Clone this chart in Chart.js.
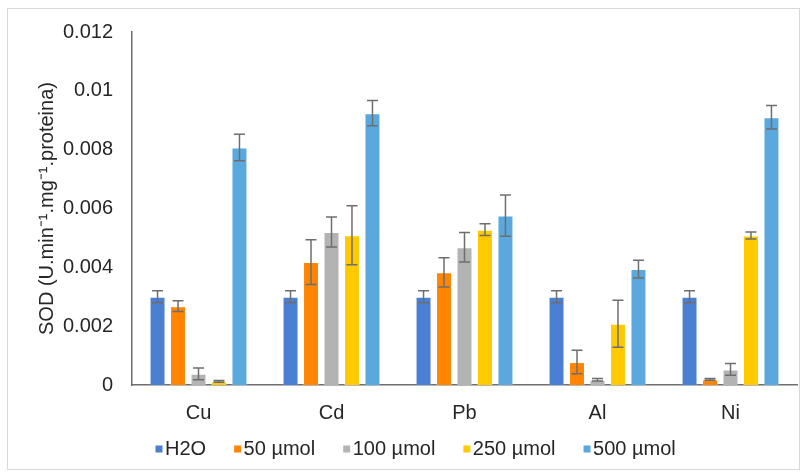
<!DOCTYPE html>
<html>
<head>
<meta charset="utf-8">
<script src="https://cdn.jsdelivr.net/npm/chart.js@4/dist/chart.umd.min.js"></script>
<style>
html,body{margin:0;padding:0;background:#fff;}
#wrap{width:807px;height:473px;position:relative;}
</style>
</head>
<body>
<div id="wrap"><canvas id="c" width="807" height="473"></canvas></div>
<script>
const categories = ['Cu', 'Cd', 'Pb', 'Al', 'Ni'];
const seriesNames = ['H2O', '50 µmol', '100 µmol', '250 µmol', '500 µmol'];
const h2oValues = [0.0030, 0.0030, 0.0030, 0.0030, 0.0030];
const umol50Values = [0.00268, 0.00418, 0.00383, 0.00078, 0.00019];
const umol100Values = [0.00038, 0.00520, 0.00468, 0.00018, 0.00053];
const umol250Values = [0.00012, 0.00509, 0.00528, 0.00208, 0.00508];
const umol500Values = [0.00807, 0.00924, 0.00576, 0.00394, 0.00910];
const h2oErrors = [0.0002, 0.0002, 0.0002, 0.0002, 0.0002];
const umol50Errors = [0.00018, 0.00076, 0.00050, 0.00040, 0.00003];
const umol100Errors = [0.00020, 0.00051, 0.00050, 0.00004, 0.00020];
const umol250Errors = [0.00003, 0.00100, 0.00020, 0.00080, 0.00012];
const umol500Errors = [0.00045, 0.00043, 0.00070, 0.00030, 0.00040];
const yTickLabels = ['0', '0.002', '0.004', '0.006', '0.008', '0.01', '0.012'];
const yTitle = 'SOD (U.min\u207B\u00B9.mg\u207B\u00B9.proteina)';

const colors = ['#4A7FD1', '#FF8503', '#B3B3B3', '#FFCA00', '#5BA8DE'];
const values = [h2oValues, umol50Values, umol100Values, umol250Values, umol500Values];
const errors = [h2oErrors, umol50Errors, umol100Errors, umol250Errors, umol500Errors];
const FONT = '"Liberation Sans", Arial, sans-serif';

const errorBarPlugin = {
  id: 'errorBars',
  afterDatasetsDraw(chart) {
    const ctx = chart.ctx;
    const y = chart.scales.y;
    ctx.save();
    ctx.strokeStyle = '#6E6E6E';
    ctx.lineWidth = 1.5;
    chart.data.datasets.forEach((ds, di) => {
      const meta = chart.getDatasetMeta(di);
      meta.data.forEach((bar, i) => {
        const v = ds.data[i], e = ds.errors[i];
        const yt = y.getPixelForValue(v + e);
        const yb = y.getPixelForValue(Math.max(0, v - e));
        const half = 5.5;
        ctx.beginPath();
        ctx.moveTo(bar.x, yt); ctx.lineTo(bar.x, yb);
        ctx.moveTo(bar.x - half, yt); ctx.lineTo(bar.x + half, yt);
        ctx.moveTo(bar.x - half, yb); ctx.lineTo(bar.x + half, yb);
        ctx.stroke();
      });
    });
    ctx.restore();
  }
};

const legendFramePlugin = {
  id: 'legendFrame',
  afterDraw(chart) {
    const ctx = chart.ctx;
    ctx.save();
    ctx.strokeStyle = '#D9D9D9';
    ctx.lineWidth = 1;
    ctx.strokeRect(7.5, 8.5, 792, 461);
    ctx.font = '20px ' + FONT;
    ctx.textBaseline = 'middle';
    ctx.fillStyle = '#262626';
    let x = 155.5;
    const cy = 449;
    chart.data.datasets.forEach((ds) => {
      ctx.fillStyle = ds.backgroundColor;
      ctx.fillRect(x, cy - 3.5, 7, 7);
      ctx.fillStyle = '#262626';
      ctx.fillText(ds.label, x + 9.5, cy);
      x += 9.5 + ctx.measureText(ds.label).width + 28;
    });
    ctx.restore();
  }
};

new Chart(document.getElementById('c'), {
  type: 'bar',
  data: {
    labels: categories,
    datasets: seriesNames.map((name, k) => ({
      label: name,
      data: values[k],
      errors: errors[k],
      backgroundColor: colors[k],
      borderColor: 'rgba(255,255,255,0.35)',
      borderWidth: 1,
      categoryPercentage: 0.77,
      barPercentage: 0.78
    }))
  },
  options: {
    responsive: false,
    animation: false,
    devicePixelRatio: 1,
    layout: { padding: { left: 0, right: 10, top: 32, bottom: 0 } },
    plugins: { legend: { display: false }, tooltip: { enabled: false } },
    scales: {
      x: {
        grid: { display: false, drawTicks: false },
        border: { display: true, color: '#6E6E6E', width: 1.5 },
        ticks: { font: { family: FONT, size: 20 }, color: '#262626', padding: 16 },
        afterFit(s) { s.height = 88; }
      },
      y: {
        min: 0, max: 0.012,
        grid: { display: false, drawTicks: false },
        border: { display: true, color: '#6E6E6E', width: 1.5 },
        ticks: {
          stepSize: 0.002,
          font: { family: FONT, size: 20 }, color: '#262626', padding: 19,
          callback: (v, i) => yTickLabels[i]
        },
        title: {
          display: true, text: yTitle,
          font: { family: FONT, size: 20 }, color: '#262626',
          padding: { top: 35, bottom: 0 }
        },
        afterFit(s) { s.width = 132; }
      }
    }
  },
  plugins: [errorBarPlugin, legendFramePlugin]
});
</script>
</body>
</html>
